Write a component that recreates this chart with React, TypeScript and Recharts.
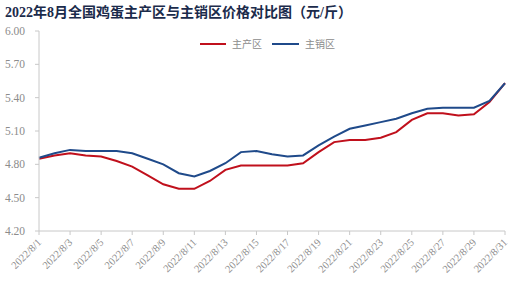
import { LineChart, Line, XAxis, YAxis } from "recharts";

// 2022年8月 每日价格 (元/斤)
const dates = [
    "2022/8/1", "2022/8/2", "2022/8/3", "2022/8/4", "2022/8/5", "2022/8/6", "2022/8/7", "2022/8/8",
    "2022/8/9", "2022/8/10", "2022/8/11", "2022/8/12", "2022/8/13", "2022/8/14", "2022/8/15", "2022/8/16",
    "2022/8/17", "2022/8/18", "2022/8/19", "2022/8/20", "2022/8/21", "2022/8/22", "2022/8/23", "2022/8/24",
    "2022/8/25", "2022/8/26", "2022/8/27", "2022/8/28", "2022/8/29", "2022/8/30", "2022/8/31",
];
const producing = [
    4.85, 4.88, 4.90, 4.88, 4.87, 4.83, 4.78, 4.70, 4.62, 4.58, 4.58, 4.65, 4.75, 4.79, 4.79, 4.79,
    4.79, 4.81, 4.91, 5.00, 5.02, 5.02, 5.04, 5.09, 5.20, 5.26, 5.26, 5.24, 5.25, 5.36, 5.53,
];
const selling = [
    4.86, 4.90, 4.93, 4.92, 4.92, 4.92, 4.90, 4.85, 4.80, 4.72, 4.69, 4.74, 4.81, 4.91, 4.92, 4.89,
    4.87, 4.88, 4.97, 5.05, 5.12, 5.15, 5.18, 5.21, 5.26, 5.30, 5.31, 5.31, 5.31, 5.37, 5.53,
];
const yTicks = [4.2, 4.5, 4.8, 5.1, 5.4, 5.7, 6.0];

const RED = "#c0101c";
const BLUE = "#1f4a8a";
const GRAY = "#8c8c8c";

const data = dates.map((d, i) => ({ date: d, producing: producing[i], selling: selling[i] }));

function DateTick(props: any) {
    const { x, y, payload } = props;
    return (
        <text
            x={x + 3}
            y={y + 6}
            textAnchor="end"
            fontSize={10.5}
            fill={GRAY}
            fontFamily="'Liberation Serif', serif"
            transform={`rotate(-45 ${x + 3} ${y + 6})`}
        >
            {payload.value}
        </text>
    );
}

export default function App() {
    return (
        <div style={{ position: "absolute", left: 0, top: 0, width: 522, height: 295, background: "#fff" }}>
            <div
                style={{
                    position: "absolute",
                    left: 5,
                    top: 4,
                    fontSize: 14,
                    fontWeight: "bold",
                    color: "#1b2b4b",
                    fontFamily: "'Liberation Serif', 'Noto Sans CJK SC', serif",
                    whiteSpace: "nowrap",
                    lineHeight: "18px",
                }}
            >
                2022年8月全国鸡蛋主产区与主销区价格对比图（元/斤）
            </div>
            <div
                style={{
                    position: "absolute",
                    left: 200,
                    top: 37,
                    display: "flex",
                    alignItems: "center",
                    fontSize: 10,
                    color: GRAY,
                    fontFamily: "'Noto Sans CJK SC', sans-serif",
                    lineHeight: "14px",
                }}
            >
                <span style={{ display: "inline-block", width: 26, height: 2, background: RED }} />
                <span style={{ marginLeft: 6, marginRight: 10 }}>主产区</span>
                <span style={{ display: "inline-block", width: 27, height: 2, background: BLUE }} />
                <span style={{ marginLeft: 6 }}>主销区</span>
            </div>
            <LineChart
                width={522}
                height={295}
                data={data}
                margin={{ top: 31, right: 17, left: 0, bottom: 0 }}
            >
                <XAxis
                    dataKey="date"
                    interval={1}
                    stroke="#c8c8c8"
                    tickSize={4}
                    tick={<DateTick />}
                    height={64}
                    padding={{ left: 0, right: 0 }}
                />
                <YAxis
                    domain={[4.2, 6.0]}
                    ticks={yTicks}
                    width={39}
                    stroke="#c8c8c8"
                    tickSize={4}
                    tickMargin={10}
                    tickFormatter={(v: number) => v.toFixed(2)}
                    tick={{ fill: GRAY, fontSize: 11.5, fontFamily: "'Liberation Serif', serif" }}
                />
                <Line
                    type="linear"
                    dataKey="producing"
                    stroke={RED}
                    strokeWidth={2}
                    dot={false}
                    isAnimationActive={false}
                />
                <Line
                    type="linear"
                    dataKey="selling"
                    stroke={BLUE}
                    strokeWidth={2}
                    dot={false}
                    isAnimationActive={false}
                />
            </LineChart>
        </div>
    );
}
